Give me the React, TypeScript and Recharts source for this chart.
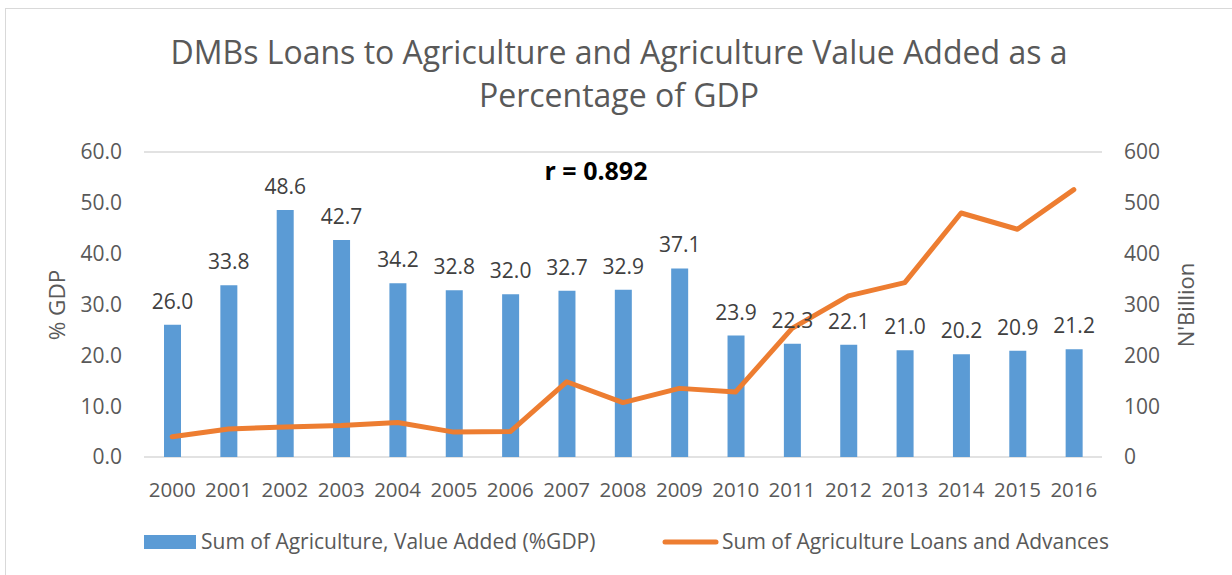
import { Bar, CartesianGrid, ComposedChart, LabelList, Line, XAxis, YAxis } from 'recharts';

// values
const years = [
  '2000', '2001', '2002', '2003', '2004', '2005', '2006', '2007', '2008',
  '2009', '2010', '2011', '2012', '2013', '2014', '2015', '2016',
];
const valueAddedPct = [
  26.0, 33.8, 48.6, 42.7, 34.2, 32.8, 32.0, 32.7, 32.9,
  37.1, 23.9, 22.3, 22.1, 21.0, 20.2, 20.9, 21.2,
];
const loansBillion = [
  40, 55, 59, 62, 68, 49, 50, 148, 107,
  135, 128, 253, 317, 343, 480, 448, 526,
];
const leftTicks = [0, 10, 20, 30, 40, 50, 60];
const rightTicks = [0, 100, 200, 300, 400, 500, 600];

const data = years.map((year, i) => ({
  year,
  va: valueAddedPct[i],
  loans: loansBillion[i],
}));

const FONT = '"Open Sans", sans-serif';
const GREY = '#595959';
const BLUE = '#5B9BD5';
const ORANGE = '#ED7D31';

export default function App() {
  return (
    <div style={{ position: 'absolute', left: 0, top: 0, width: 1232, height: 575, background: '#fff', fontFamily: FONT }}>
      <div style={{ position: 'absolute', left: 5, top: 8, width: 1240, height: 580, border: '1px solid #d9d9d9', boxSizing: 'border-box' }} />
      <ComposedChart
        width={1232}
        height={575}
        data={data}
        margin={{ top: 152, right: 70, bottom: 88, left: 84 }}
        style={{ position: 'absolute', left: 0, top: 0 }}
      >
        <CartesianGrid vertical={false} stroke="#d9d9d9" strokeWidth={1.5} />
        <XAxis
          dataKey="year"
          axisLine={false}
          tickLine={false}
          tickMargin={19}
          height={30}
          tick={{ fontSize: 20.5, fill: GREY, fontFamily: FONT }}
          interval={0}
        />
        <YAxis
          yAxisId="left"
          domain={[0, 60]}
          ticks={leftTicks}
          width={60}
          axisLine={false}
          tickLine={false}
          tickMargin={16}
          tickFormatter={(v: number) => v.toFixed(1)}
          tick={{ fontSize: 21, fill: GREY, fontFamily: FONT }}
        />
        <YAxis
          yAxisId="right"
          orientation="right"
          domain={[0, 600]}
          ticks={rightTicks}
          width={60}
          axisLine={false}
          tickLine={false}
          tickMargin={16}
          tick={{ fontSize: 21, fill: GREY, fontFamily: FONT, textAnchor: 'start' }}
        />
        <Bar yAxisId="left" dataKey="va" fill={BLUE} barSize={17} isAnimationActive={false}>
          <LabelList
            dataKey="va"
            position="top"
            offset={16}
            formatter={(v: number) => v.toFixed(1)}
            style={{ fontSize: 21, fill: '#404040', fontFamily: FONT }}
          />
        </Bar>
        <Line
          yAxisId="right"
          dataKey="loans"
          type="linear"
          stroke={ORANGE}
          strokeWidth={5}
          strokeLinecap="round"
          strokeLinejoin="round"
          dot={false}
          activeDot={false}
          isAnimationActive={false}
        />
      </ComposedChart>
      <svg width={1232} height={575} style={{ position: 'absolute', left: 0, top: 0, pointerEvents: 'none' }}>
        <g fontFamily={FONT}>
          <text x={619} y={64} textAnchor="middle" fontSize={32} fill={GREY}>
            DMBs Loans to Agriculture and Agriculture Value Added as a
          </text>
          <text x={619} y={107} textAnchor="middle" fontSize={32} fill={GREY}>
            Percentage of GDP
          </text>
          <text x={596} y={180} textAnchor="middle" fontSize={25} fontWeight="bold" fill="#000">
            r = 0.892
          </text>
          <text x={0} y={0} transform="translate(65,305) rotate(-90)" textAnchor="middle" fontSize={22.5} fill={GREY}>
            % GDP
          </text>
          <text x={0} y={0} transform="translate(1194,305) rotate(-90)" textAnchor="middle" fontSize={22} fill={GREY}>
            N'Billion
          </text>
          <rect x={144} y={535} width={52} height={14} fill={BLUE} />
          <text x={201} y={549} fontSize={21} fill={GREY}>
            Sum of Agriculture, Value Added (%GDP)
          </text>
          <line x1={665} y1={542} x2={716} y2={542} stroke={ORANGE} strokeWidth={5} strokeLinecap="round" />
          <text x={722} y={549} fontSize={21} fill={GREY}>
            Sum of Agriculture Loans and Advances
          </text>
        </g>
      </svg>
    </div>
  );
}
